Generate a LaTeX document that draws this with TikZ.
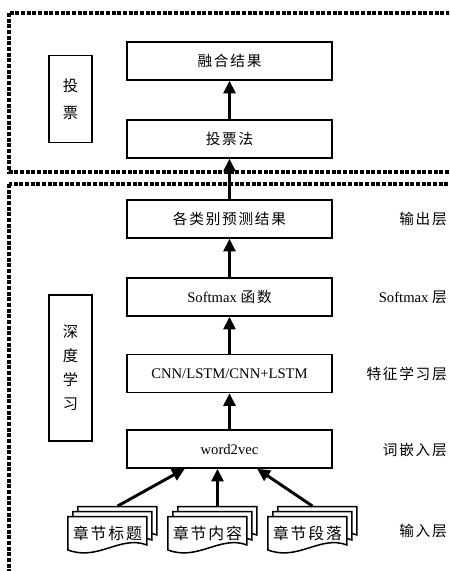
\documentclass[tikz,border=0pt]{standalone}
\usepackage{fontspec}
\setmainfont{Liberation Serif}
\newfontfamily\cjk[LetterSpace=12]{Noto Sans CJK SC}
\usetikzlibrary{arrows.meta,backgrounds}

\begin{document}
\begin{tikzpicture}[x=0.03cm, y=-0.03cm, font=\fontsize{12.5}{14}\selectfont]

		\tikzstyle{layer}=[rectangle, draw, line width=1.3pt, fill=white, minimum width=6.15cm, minimum height=1.14cm, inner sep=0pt]
		\tikzstyle{side}=[rectangle, draw, line width=1.3pt, minimum width=1.29cm, inner sep=0pt, align=center]
		\tikzstyle{doc}=[rectangle, inner sep=0pt, minimum width=2.37cm, minimum height=1cm, font=\fontsize{13.5}{15}\selectfont\cjk]
		\tikzstyle{lbl}=[anchor=east, inner sep=0pt]
		\tikzstyle{frame}=[line width=2.8pt, dash pattern=on 0.12cm off 0.05cm]
		\tikzstyle{flow}=[-{Triangle[width=0.36cm, length=0.38cm]}, line width=2.5pt]
		\tikzstyle{page}=[line width=1.3pt, fill=white]

		\useasboundingbox (0,0) rectangle (449,571);
		\clip (0,0) rectangle (449,571);

		% dashed frames
		\draw[frame] (9,13) rectangle (470,172);
		\draw[frame] (9,184) rectangle (470,600);

		% voting part
		\node[side, minimum height=2.61cm, font=\fontsize{13}{23}\selectfont\cjk] (tp) at (70.5,99) {投\\票};
		\node[layer] (res) at (229.5,61) {\cjk 融合结果};
		\node[layer] (vote) at (229.5,139) {\cjk 投票法};

		% deep learning part
		\node[side, minimum height=4.38cm, font=\fontsize{13}{20.5}\selectfont\cjk] (dl) at (70.5,368) {深\\度\\学\\习};
		\node[layer] (pred) at (229.5,219) {\cjk 各类别预测结果};
		\node[layer] (soft) at (229.5,297) {Softmax {\cjk 函数}};
		\node[layer] (cnn) at (229.5,373.5) {CNN/LSTM/CNN+LSTM};
		\node[layer] (w2v) at (229.5,449) {word2vec};

		\node[doc] (d1) at (107.5,533) {章节标题};
		\node[doc] (d2) at (207.5,533) {章节内容};
		\node[doc] (d3) at (307.5,533) {章节段落};

		% layer names
		\node[lbl] (l1) at (447,219) {\cjk 输出层};
		\node[lbl] (l2) at (447,297) {Softmax {\cjk 层}};
		\node[lbl] (l3) at (447,374) {\cjk 特征学习层};
		\node[lbl] (l4) at (447,450) {\cjk 词嵌入层};
		\node[lbl] (l5) at (447,531) {\cjk 输入层};

		% stacked pages
		\begin{pgfonlayer}{background}
		\foreach \d in {d1,d2,d3}{
			\foreach \s in {0.3,0.15,0}{
				\draw[page] ([shift={(\s cm,\s cm)}]\d.south west) -- ++(0,1cm) -- ++(2.37cm,0) -- ++(0,-0.85cm)
					.. controls +(-0.8cm,0.3cm) and +(0.9cm,-0.35cm) .. ++(-2.37cm,-0.15cm) -- cycle;
			}
		}
		\end{pgfonlayer}

		\coordinate (t1) at ([shift={(0.3cm,0.3cm)}]d1.north);
		\coordinate (t2) at ([shift={(0.3cm,0.3cm)}]d2.north);
		\coordinate (t3) at ([shift={(0.15cm,0.3cm)}]d3.north);

		% arrows
		\draw[flow] (t1) -- ([xshift=-1.34cm]w2v.south);
		\draw[flow] (t2) -- (t2 |- w2v.south);
		\draw[flow] (t3) -- ([xshift=0.83cm]w2v.south);
		\draw[flow] (w2v) -- (cnn);
		\draw[flow] (cnn) -- (soft);
		\draw[flow] (soft) -- (pred);
		\draw[flow] (pred) -- (vote);
		\draw[flow] (vote) -- (res);
		\end{tikzpicture}
\end{document}
